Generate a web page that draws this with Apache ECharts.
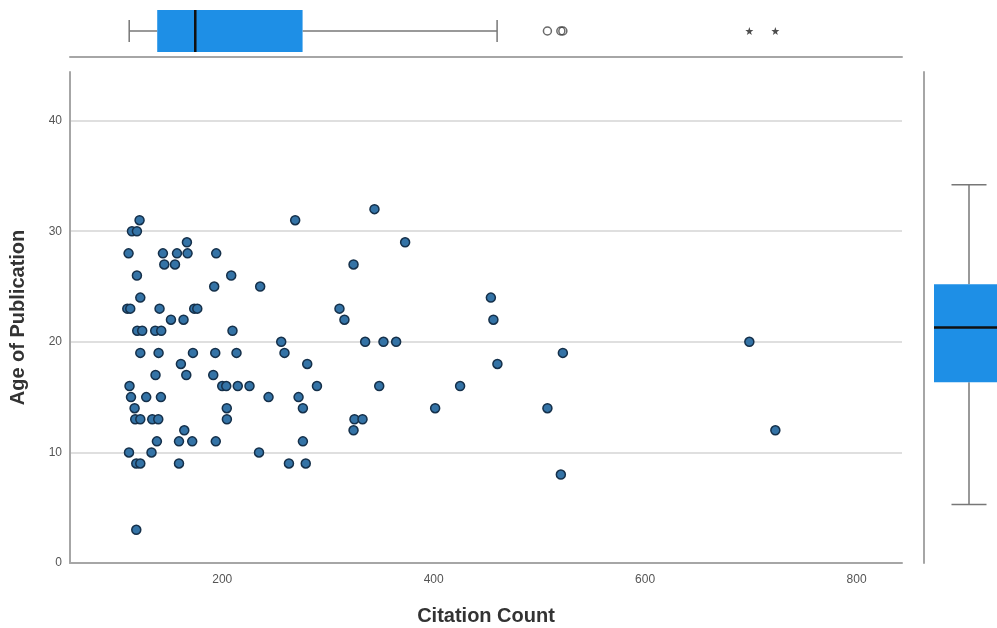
<!DOCTYPE html>
<html><head><meta charset="utf-8">
<script src="https://cdn.jsdelivr.net/npm/echarts@6/dist/echarts.min.js"></script>
<style>html,body{margin:0;padding:0;background:#fff}#c{width:997px;height:628px}</style>
</head><body><div id="c"></div>
<script>
// ---- data ----
const xTickLabels = [200, 400, 600, 800];
const yTickLabels = [0, 10, 20, 30, 40];

const citationCount = [
  121.8, 269, 344,
  114.6, 119.3,
  166.6, 373,
  111.4, 143.9, 157.2, 167.2, 194.3,
  145.2, 155.3, 324.2,
  119.3, 208.5,
  192.4, 235.9,
  122.5, 454.1,
  110.2, 113, 140.7, 173.5, 176.4, 310.9,
  151.5, 163.4, 315.6, 456.5,
  119.6, 124.3, 136.6, 142.3, 209.7,
  255.8, 335.2, 352.5, 364.5, 698.6,
  122.5, 139.8, 172.3, 193.4, 213.5, 258.9, 522.2,
  160.9, 280.4, 460.3,
  136.9, 166, 191.5,
  112.3, 200, 203.8, 214.7, 225.8, 289.6, 348.5, 425,
  113.7, 128.1, 142, 243.8, 272.2,
  117.1, 204.3, 276.3, 401.4, 507.6,
  117.7, 122.5, 133.8, 139.5, 204.4, 325.1, 332.7,
  164.1, 324.2, 723.2,
  138.2, 159.1, 171.6, 193.9, 276.3,
  111.8, 133.1, 234.8,
  118.7, 122.5, 159.1, 263.1, 279,
  520.3,
  118.7
];
const ageOfPublication = [
  31, 31, 32,
  30, 30,
  29, 29,
  28, 28, 28, 28, 28,
  27, 27, 27,
  26, 26,
  25, 25,
  24, 24,
  23, 23, 23, 23, 23, 23,
  22, 22, 22, 22,
  21, 21, 21, 21, 21,
  20, 20, 20, 20, 20,
  19, 19, 19, 19, 19, 19, 19,
  18, 18, 18,
  17, 17, 17,
  16, 16, 16, 16, 16, 16, 16, 16,
  15, 15, 15, 15, 15,
  14, 14, 14, 14, 14,
  13, 13, 13, 13, 13, 13, 13,
  12, 12, 12,
  11, 11, 11, 11, 11,
  10, 10, 10,
  9, 9, 9, 9, 9,
  8,
  3
];

// box plot summaries: [lower whisker, Q1, median, Q3, upper whisker]
const citationBox = [112, 138.5, 174.5, 276, 460];
const citationOutliers = [507.6, 520.3, 522.2];
const citationExtremes = [698.6, 723.2];
const ageBox = [5.3, 16.35, 21.3, 25.2, 34.2];

// ---- chart ----
const X_MIN = 56, X_MAX = 843, Y_MIN = 0, Y_MAX = 44.4;
const FONT = 'Liberation Sans, Arial, sans-serif';
const BOX_FILL = '#1E8FE6', WHISKER = '#777777', AXIS = '#a6a6a6', GRID = '#d4d4d4';

const points = citationCount.map((c, i) => [c, ageOfPublication[i]]);

function hBox(params, api) {
  const v = [1, 2, 3, 4, 5].map(i => api.value(i));
  const y = api.coord([v[2], 0])[1];
  const p = v.map(x => api.coord([x, 0])[0]);
  const hb = 21, hc = 11;
  const ls = { stroke: WHISKER, lineWidth: 1.5 };
  return { type: 'group', children: [
    { type: 'line', shape: { x1: p[0], y1: y, x2: p[1], y2: y }, style: ls },
    { type: 'line', shape: { x1: p[3], y1: y, x2: p[4], y2: y }, style: ls },
    { type: 'line', shape: { x1: p[0], y1: y - hc, x2: p[0], y2: y + hc }, style: ls },
    { type: 'line', shape: { x1: p[4], y1: y - hc, x2: p[4], y2: y + hc }, style: ls },
    { type: 'rect', shape: { x: p[1], y: y - hb, width: p[3] - p[1], height: 2 * hb }, style: { fill: BOX_FILL } },
    { type: 'line', shape: { x1: p[2], y1: y - hb, x2: p[2], y2: y + hb }, style: { stroke: '#111', lineWidth: 2.5 } }
  ]};
}
function vBox(params, api) {
  const v = [1, 2, 3, 4, 5].map(i => api.value(i));
  const x = api.coord([0, v[2]])[0];
  const p = v.map(y => api.coord([0, y])[1]);
  const hb = 35, hc = 17.5;
  const ls = { stroke: WHISKER, lineWidth: 1.5 };
  return { type: 'group', children: [
    { type: 'line', shape: { x1: x, y1: p[0], x2: x, y2: p[1] }, style: ls },
    { type: 'line', shape: { x1: x, y1: p[3], x2: x, y2: p[4] }, style: ls },
    { type: 'line', shape: { x1: x - hc, y1: p[0], x2: x + hc, y2: p[0] }, style: ls },
    { type: 'line', shape: { x1: x - hc, y1: p[4], x2: x + hc, y2: p[4] }, style: ls },
    { type: 'rect', shape: { x: x - hb, y: p[3], width: 2 * hb, height: p[1] - p[3] }, style: { fill: BOX_FILL } },
    { type: 'line', shape: { x1: x - hb, y1: p[2], x2: x + hb, y2: p[2] }, style: { stroke: '#111', lineWidth: 2.5 } }
  ]};
}

const STAR = 'path://M0,-10 L2.35,-3.24 L9.51,-3.09 L3.8,1.24 L5.88,8.09 L0,4 L-5.88,8.09 L-3.8,1.24 L-9.51,-3.09 L-2.35,-3.24 Z';

const chart = echarts.init(document.getElementById('c'), null, { renderer: 'canvas' });
chart.setOption({
  animation: false,
  backgroundColor: '#ffffff',
  textStyle: { fontFamily: FONT },
  grid: [
    { left: 70, top: 72, width: 832, height: 491, containLabel: false, outerBoundsMode: 'none' },
    { left: 70, top: 5, width: 832, height: 52, containLabel: false, outerBoundsMode: 'none' },
    { left: 941, top: 72, width: 56, height: 491, containLabel: false, outerBoundsMode: 'none' }
  ],
  xAxis: [
    {
      gridIndex: 0, type: 'value', min: X_MIN, max: X_MAX,
      name: 'Citation Count', nameLocation: 'middle', nameGap: 43,
      nameTextStyle: { fontSize: 20, fontWeight: 'bold', color: '#333', fontFamily: FONT },
      axisLine: { show: true, lineStyle: { color: AXIS, width: 2 } },
      axisTick: { show: false },
      splitLine: { show: false },
      axisLabel: { customValues: xTickLabels, color: '#555', fontSize: 12, margin: 11, fontFamily: FONT }
    },
    {
      gridIndex: 1, type: 'value', min: X_MIN, max: X_MAX, position: 'bottom',
      axisLine: { show: true, onZero: false, lineStyle: { color: AXIS, width: 2 } },
      axisTick: { show: false }, axisLabel: { show: false }, splitLine: { show: false }
    },
    {
      gridIndex: 2, type: 'category', data: ['Age of Publication'],
      axisLine: { show: false }, axisTick: { show: false }, axisLabel: { show: false }, splitLine: { show: false }
    }
  ],
  yAxis: [
    {
      gridIndex: 0, type: 'value', min: Y_MIN, max: Y_MAX, interval: 10,
      name: 'Age of Publication', nameLocation: 'middle', nameGap: 42,
      nameTextStyle: { fontSize: 20, fontWeight: 'bold', color: '#333', fontFamily: FONT },
      axisLine: { show: true, lineStyle: { color: AXIS, width: 2 } },
      axisTick: { show: false },
      splitLine: { show: true, showMinLine: false, showMaxLine: false, lineStyle: { color: GRID, width: 1.5 } },
      axisLabel: { customValues: yTickLabels, color: '#555', fontSize: 12, margin: 8, fontFamily: FONT }
    },
    {
      gridIndex: 1, type: 'category', data: ['Citation Count'],
      axisLine: { show: false }, axisTick: { show: false }, axisLabel: { show: false }, splitLine: { show: false }
    },
    {
      gridIndex: 2, type: 'value', min: Y_MIN, max: Y_MAX, position: 'left', offset: 17,
      axisLine: { show: true, lineStyle: { color: AXIS, width: 2 } },
      axisTick: { show: false }, axisLabel: { show: false }, splitLine: { show: false }
    }
  ],
  series: [
    {
      type: 'scatter', xAxisIndex: 0, yAxisIndex: 0, data: points,
      symbol: 'circle', symbolSize: 9,
      itemStyle: { color: '#3473a6', borderColor: '#15304a', borderWidth: 1.5, opacity: 1 }
    },
    {
      type: 'custom', xAxisIndex: 1, yAxisIndex: 1, renderItem: hBox,
      encode: { x: [1, 2, 3, 4, 5], y: 0 },
      data: [[0].concat(citationBox)]
    },
    {
      type: 'scatter', xAxisIndex: 1, yAxisIndex: 1,
      data: citationOutliers.map(v => [v, 0]),
      symbol: 'circle', symbolSize: 8,
      itemStyle: { color: 'rgba(255,255,255,0)', borderColor: '#444', borderWidth: 1.5 }
    },
    {
      type: 'scatter', xAxisIndex: 1, yAxisIndex: 1,
      data: citationExtremes.map(v => [v, 0]),
      symbol: STAR, symbolSize: 8,
      itemStyle: { color: '#222' }
    },
    {
      type: 'custom', xAxisIndex: 2, yAxisIndex: 2, renderItem: vBox,
      encode: { y: [1, 2, 3, 4, 5], x: 0 },
      data: [[0].concat(ageBox)]
    }
  ]
});
</script>
</body></html>
